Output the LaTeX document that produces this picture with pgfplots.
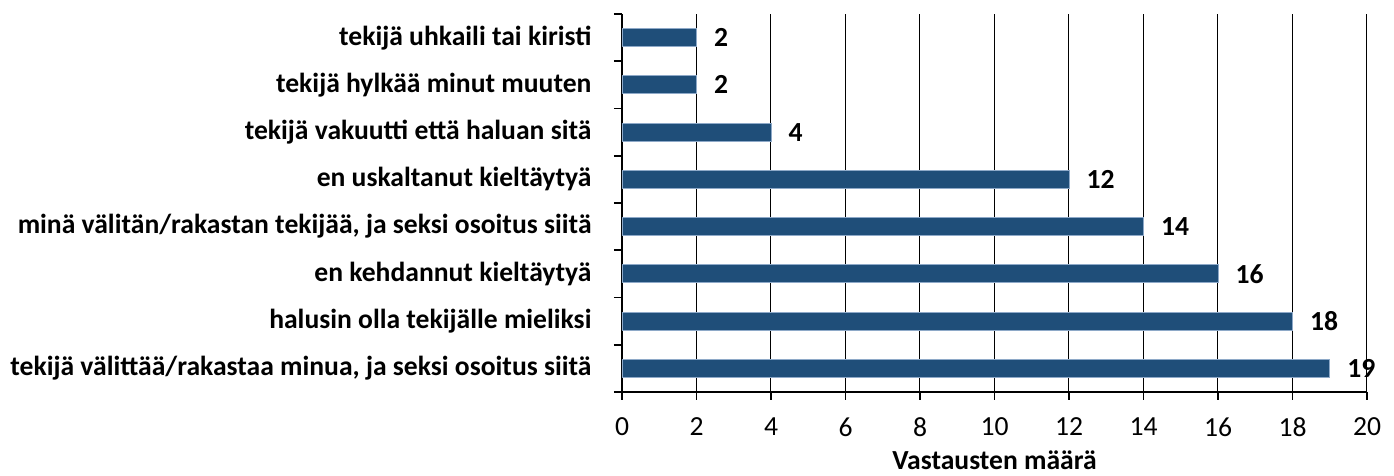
\documentclass[border=0pt]{standalone}
\usepackage{fontspec}
\setmainfont{Carlito}
\usepackage{pgfplots}
\pgfplotsset{compat=1.18}
\definecolor{barblue}{HTML}{1F4E79}
\definecolor{baredge}{HTML}{8EA9C8}
\newcommand{\fs}{\fontsize{13.8}{16}\selectfont}
\begin{document}
\begin{tikzpicture}
\fs
\begin{axis}[
  at={(311pt,42pt)}, anchor=south west,
  scale only axis, width=372.5pt, height=189pt,
  xbar, bar width=9pt,
  xmin=0, xmax=20, ymin=-0.5, ymax=7.5,
  xtick={0,2,...,20},
  xmajorgrids, grid style={black, line width=0.5pt},
  axis x line*=bottom, axis y line*=left,
  axis line style={black, line width=1pt},
  tick align=outside, major tick length=4pt,
  tick style={black, line width=0.8pt},
  ytick={-0.5,0.5,...,7.5}, yticklabels={},
  extra y ticks={0,1,2,3,4,5,6,7},
  extra y tick labels={
    tekijä välittää/rakastaa minua{,} ja seksi osoitus siitä,
    halusin olla tekijälle mieliksi,
    en kehdannut kieltäytyä,
    minä välitän/rakastan tekijää{,} ja seksi osoitus siitä,
    en uskaltanut kieltäytyä,
    tekijä vakuutti että haluan sitä,
    tekijä hylkää minut muuten,
    tekijä uhkaili tai kiristi},
  extra y tick style={major tick length=0pt, tick style={draw=none},
    yticklabel style={font=\fs\bfseries, xshift=-10.5pt}},
  /pgf/number format/assume math mode=true,
  ticklabel style={font=\fs},
  xticklabel style={yshift=-4pt},
  xlabel={\bfseries Vastausten määrä},
  xlabel style={font=\fs, yshift=2.5pt},
  nodes near coords,
  every node near coord/.append style={font=\fs\bfseries, xshift=4pt, black},
  clip=false,
]
\addplot[fill=barblue, draw=baredge, line width=0.4pt] coordinates {
  (19,0) (18,1) (16,2) (14,3) (12,4) (4,5) (2,6) (2,7)
};
\end{axis}
\pgfresetboundingbox
\useasboundingbox (0,0) rectangle (697pt,238pt);
\end{tikzpicture}
\end{document}
